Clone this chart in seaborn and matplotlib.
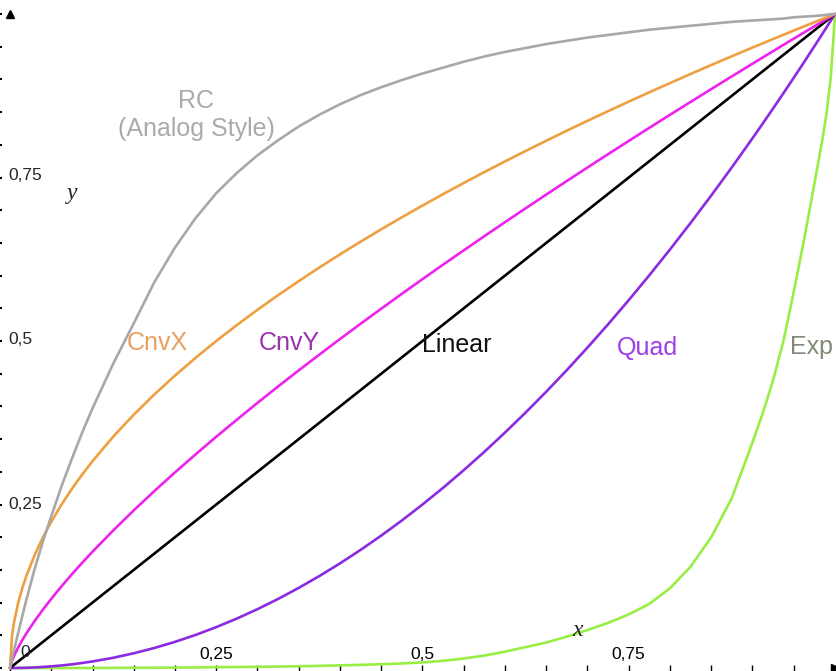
import pandas as pd
import seaborn as sns
import matplotlib.pyplot as plt
from matplotlib.ticker import MultipleLocator

# sample positions along x (denser near the ends where curves bend hard)
x_vals = [0, 0.0025, 0.005, 0.01, 0.015, 0.02, 0.03, 0.04, 0.05, 0.0625, 0.075, 0.0875,
          0.1, 0.125, 0.15, 0.175, 0.2, 0.225, 0.25, 0.275, 0.3, 0.325, 0.35, 0.375,
          0.4, 0.425, 0.45, 0.475, 0.5, 0.525, 0.55, 0.575, 0.6, 0.625, 0.65, 0.675,
          0.7, 0.725, 0.75, 0.775, 0.8, 0.825, 0.85, 0.875, 0.9, 0.9125, 0.925, 0.9375,
          0.95, 0.9625, 0.975, 0.985, 0.99, 0.995, 1.0]

rc = [0, 0.014, 0.028, 0.054, 0.08, 0.105, 0.152, 0.194, 0.232, 0.278, 0.32, 0.36,
      0.397, 0.465, 0.527, 0.59, 0.643, 0.688, 0.726, 0.757, 0.784, 0.807, 0.828, 0.846,
      0.862, 0.876, 0.888, 0.899, 0.909, 0.918, 0.927, 0.935, 0.942, 0.948, 0.954, 0.959,
      0.964, 0.968, 0.972, 0.976, 0.979, 0.982, 0.985, 0.988, 0.99, 0.991, 0.992, 0.993,
      0.995, 0.996, 0.997, 0.998, 0.999, 0.9995, 1.0]
cnvx = [0, 0.05, 0.0707, 0.1, 0.1225, 0.1414, 0.1732, 0.2, 0.2236, 0.25, 0.2739, 0.2958,
        0.3162, 0.3536, 0.3873, 0.4183, 0.4472, 0.4743, 0.5, 0.5244, 0.5477, 0.5701, 0.5916, 0.6124,
        0.6325, 0.6519, 0.6708, 0.6892, 0.7071, 0.7246, 0.7416, 0.7583, 0.7746, 0.7906, 0.8062, 0.8216,
        0.8367, 0.8515, 0.866, 0.8803, 0.8944, 0.9083, 0.922, 0.9354, 0.9487, 0.9552, 0.9618, 0.9682,
        0.9747, 0.9811, 0.9874, 0.9925, 0.995, 0.9975, 1.0]
cnvy = [0, 0.0112, 0.0188, 0.0316, 0.0429, 0.0532, 0.0721, 0.0894, 0.1057, 0.125, 0.1433, 0.1609,
        0.1778, 0.2102, 0.241, 0.2706, 0.2991, 0.3267, 0.3536, 0.3797, 0.4054, 0.4305, 0.4551, 0.4792,
        0.503, 0.5264, 0.5494, 0.5722, 0.5946, 0.6168, 0.6386, 0.6603, 0.6817, 0.7029, 0.7239, 0.7447,
        0.7653, 0.7857, 0.8059, 0.826, 0.8459, 0.8656, 0.8852, 0.9047, 0.924, 0.9336, 0.9432, 0.9528,
        0.9623, 0.9717, 0.9812, 0.9887, 0.9925, 0.9962, 1.0]
linear = [0, 0.0025, 0.005, 0.01, 0.015, 0.02, 0.03, 0.04, 0.05, 0.0625, 0.075, 0.0875,
          0.1, 0.125, 0.15, 0.175, 0.2, 0.225, 0.25, 0.275, 0.3, 0.325, 0.35, 0.375,
          0.4, 0.425, 0.45, 0.475, 0.5, 0.525, 0.55, 0.575, 0.6, 0.625, 0.65, 0.675,
          0.7, 0.725, 0.75, 0.775, 0.8, 0.825, 0.85, 0.875, 0.9, 0.9125, 0.925, 0.9375,
          0.95, 0.9625, 0.975, 0.985, 0.99, 0.995, 1.0]
quad = [0, 0.00001, 0.00003, 0.0001, 0.0002, 0.0004, 0.0009, 0.0016, 0.0025, 0.0039, 0.0056, 0.0077,
        0.01, 0.0156, 0.0225, 0.0306, 0.04, 0.0506, 0.0625, 0.0756, 0.09, 0.1056, 0.1225, 0.1406,
        0.16, 0.1806, 0.2025, 0.2256, 0.25, 0.2756, 0.3025, 0.3306, 0.36, 0.3906, 0.4225, 0.4556,
        0.49, 0.5256, 0.5625, 0.6006, 0.64, 0.6806, 0.7225, 0.7656, 0.81, 0.8327, 0.8556, 0.8789,
        0.9025, 0.9264, 0.9506, 0.9702, 0.9801, 0.99, 1.0]
exp_ = [0, 0, 0, 0, 0, 0, 0, 0, 0, 0, 0, 0,
        0.0001, 0.0002, 0.0003, 0.0004, 0.0006, 0.0009, 0.0012, 0.0015, 0.0018, 0.0022, 0.0027, 0.0033,
        0.004, 0.0048, 0.0058, 0.007, 0.0085, 0.011, 0.0145, 0.019, 0.025, 0.032, 0.039, 0.048,
        0.058, 0.069, 0.082, 0.098, 0.122, 0.155, 0.2, 0.26, 0.345, 0.39, 0.44, 0.5,
        0.575, 0.655, 0.74, 0.81, 0.85, 0.905, 1.0]

names = ["Exp", "Quad", "Linear", "CnvY", "CnvX", "RC"]
series = [exp_, quad, linear, cnvy, cnvx, rc]
line_colors = {"RC": "#a8a8a8", "CnvX": "#eea040", "CnvY": "#ee22ee",
               "Linear": "#000000", "Quad": "#8a2be2", "Exp": "#99ee44"}

df = pd.DataFrame({
    "x": x_vals * len(names),
    "y": [v for s in series for v in s],
    "curve": [n for n, s in zip(names, series) for _ in s],
})

sns.set_theme(style="white")
plt.rcParams["font.family"] = ["Liberation Sans", "DejaVu Sans"]

fig = plt.figure(figsize=(8.37, 6.71), dpi=100)
ax = fig.add_axes([0, 0, 1, 1])

sns.lineplot(data=df, x="x", y="y", hue="curve", hue_order=names,
             palette=line_colors, linewidth=1.9, legend=False,
             sort=False, estimator=None, ax=ax)

ax.set_xlim(-10 / 825, 1 + 2 / 825)
ax.set_ylim(-3 / 654, 1 + 14 / 654)
for sp in ax.spines.values():
    sp.set_visible(False)
ax.set_xlabel("")
ax.set_ylabel("")

# x ticks, labels drawn inside the plot
ax.set_xticks([0.25, 0.5, 0.75], labels=["0,25", "0,5", "0,75"])
ax.xaxis.set_minor_locator(MultipleLocator(0.05))
ax.tick_params(axis="x", which="major", direction="inout", length=8, width=1,
               pad=-21, labelsize=12.5, colors="black", bottom=True)
ax.tick_params(axis="x", which="minor", direction="in", length=4, width=1,
               colors="black", bottom=True)

# y ticks as dots, labels as text next to the axis
ax.set_yticks([0.25, 0.5, 0.75])
ax.yaxis.set_minor_locator(MultipleLocator(0.05))
ax.tick_params(axis="y", which="both", direction="inout", length=3, width=1.5,
               colors="black", left=True, labelleft=False)
for val, lab in zip([0.753, 0.502, 0.25], ["0,75", "0,5", "0,25"]):
    ax.text(-0.0024, val, lab, fontsize=12.5, ha="left", va="center")

# axis arrows
ax.plot([0], [1.0], marker="^", color="black", markersize=6, clip_on=False)
ax.plot([1.0], [0], marker=">", color="black", markersize=6, clip_on=False)

ax.text(0.018, 0.023, "0", fontsize=12.5, ha="center", va="center")
ax.text(0.075, 0.726, "y", fontsize=17, ha="center", va="center",
        family=["Liberation Serif", "DejaVu Serif"], style="italic")
ax.text(0.688, 0.058, "x", fontsize=17, ha="center", va="center",
        family=["Liberation Serif", "DejaVu Serif"], style="italic")

# curve labels
label_style = dict(fontsize=18, ha="center", va="center")
ax.text(0.2255, 0.846, "RC\n(Analog Style)", color="#aaaaaa", linespacing=1.2, **label_style)
ax.text(0.179, 0.497, "CnvX", color="#e8a060", **label_style)
ax.text(0.338, 0.497, "CnvY", color="#9933aa", **label_style)
ax.text(0.541, 0.494, "Linear", color="#111111", **label_style)
ax.text(0.773, 0.489, "Quad", color="#9d3ee8", **label_style)
ax.text(0.972, 0.491, "Exp", color="#808a78", **label_style)

fig.savefig("out.png", dpi=100)
